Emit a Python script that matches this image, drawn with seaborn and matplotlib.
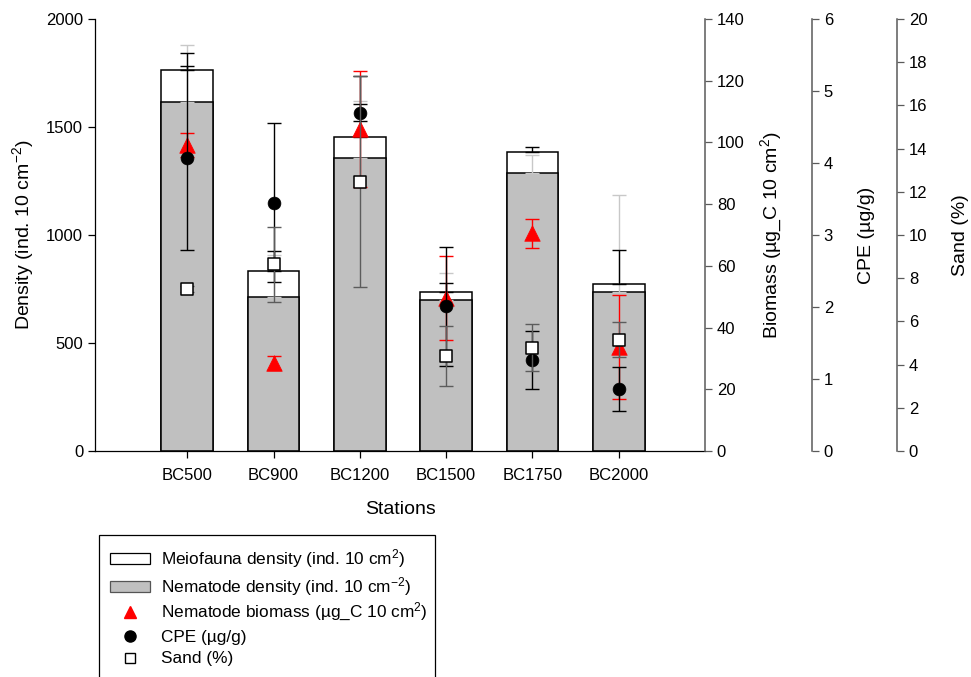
import numpy as np
import pandas as pd
import matplotlib
matplotlib.use("Agg")
import matplotlib.pyplot as plt
import seaborn as sns
from matplotlib.patches import Patch, Rectangle
from matplotlib.lines import Line2D

# ---- data -------------------------------------------------------------
stations = ["BC500", "BC900", "BC1200", "BC1500", "BC1750", "BC2000"]

meiofauna_density = [1762, 835, 1452, 736, 1386, 775]
meiofauna_density_err = [79, 91, 285, 42, 23, 154]
nematode_density = [1616, 711, 1358, 699, 1287, 735]
nematode_density_err = [264, 196, 264, 126, 82, 449]

nematode_biomass = [99.2, 28.6, 104.4, 49.7, 70.5, 33.7]
nematode_biomass_err = [3.8, 2.2, 18.8, 13.6, 4.6, 16.9]
cpe = [4.07, 3.45, 4.70, 2.01, 1.26, 0.86]
cpe_err = [1.28, 1.10, 0.115, 0.83, 0.40, 0.31]
sand = [7.5, 8.64, 12.47, 4.40, 4.78, 5.14]
sand_err = [0.15, 1.73, 4.87, 1.37, 1.08, 0.81]

density_ticks = [0, 500, 1000, 1500, 2000]
biomass_ticks = list(range(0, 141, 20))
cpe_ticks = list(range(0, 7))
sand_ticks = list(range(0, 21, 2))

# ---- style ------------------------------------------------------------
sns.set_style("ticks")
plt.rcParams["font.family"] = ["Liberation Sans", "DejaVu Sans"]
plt.rcParams["mathtext.fontset"] = "custom"
plt.rcParams["mathtext.rm"] = "Liberation Sans"
plt.rcParams["mathtext.it"] = "Liberation Sans:italic"
plt.rcParams["mathtext.bf"] = "Liberation Sans:bold"
plt.rcParams["text.color"] = "black"
plt.rcParams["axes.labelcolor"] = "black"
plt.rcParams["xtick.color"] = "black"
plt.rcParams["ytick.color"] = "black"

GREY_BAR = "#c0c0c0"
SPINE_GREY = "#5a5a5a"
TICK_FS = 12
LABEL_FS = 14
LEGEND_FS = 12.4

fig = plt.figure(figsize=(9.71, 6.77), dpi=100)
ax = fig.add_axes([95 / 971, 1 - 451 / 677, 610 / 971, 432 / 677])

df = pd.DataFrame({
    "station": stations,
    "meiofauna": meiofauna_density,
    "nematode": nematode_density,
})
x = np.arange(len(stations))

# total meiofauna bar behind, nematode share in front
sns.barplot(data=df, x="station", y="meiofauna", color="white", saturation=1,
            edgecolor="black", linewidth=1.1, width=0.6, ax=ax, errorbar=None)
sns.barplot(data=df, x="station", y="nematode", color=GREY_BAR, saturation=1,
            edgecolor="black", linewidth=1.1, width=0.6, ax=ax, errorbar=None)

zeros = np.zeros(len(x))
ax.errorbar(x, nematode_density, yerr=[zeros, nematode_density_err], fmt="none",
            ecolor="#c8c8c8", elinewidth=1.0, capsize=4.7, capthick=1.0, zorder=3)
ax.errorbar(x, meiofauna_density, yerr=[zeros, meiofauna_density_err], fmt="none",
            ecolor="black", elinewidth=1.0, capsize=4.7, capthick=1.0, zorder=3)

ax.set_xlim(-1.07, 6.0)
ax.set_ylim(0, 2000)
ax.set_yticks(density_ticks)
ax.set_xlabel("Stations", fontsize=LABEL_FS, labelpad=13)
ax.set_ylabel("Density (ind. 10 cm$^{-2}$)", fontsize=LABEL_FS, labelpad=7)
ax.tick_params(axis="both", direction="out", length=5, width=0.9,
               labelsize=TICK_FS, colors="black")
ax.tick_params(axis="x", pad=7)
for side in ("top", "right"):
    ax.spines[side].set_visible(False)
for side in ("left", "bottom"):
    ax.spines[side].set_color("black")
    ax.spines[side].set_linewidth(0.9)

# ---- secondary scales -------------------------------------------------
ax_bio = ax.twinx()
ax_cpe = ax.twinx()
ax_sand = ax.twinx()
ax_cpe.spines["right"].set_position(("axes", 1 + 107 / 610))
ax_sand.spines["right"].set_position(("axes", 1 + 192 / 610))

for a, lim, ticks in ((ax_bio, 140, biomass_ticks), (ax_cpe, 6, cpe_ticks),
                      (ax_sand, 20, sand_ticks)):
    a.set_ylim(0, lim)
    a.set_yticks(ticks)
    for side in ("top", "left", "bottom"):
        a.spines[side].set_visible(False)
    a.spines["right"].set_color(SPINE_GREY)
    a.spines["right"].set_linewidth(1.1)
    a.tick_params(axis="y", direction="out", length=5, width=0.9,
                  color=SPINE_GREY, labelsize=TICK_FS, labelcolor="black")

ax_bio.set_ylabel("Biomass (µg_C 10 cm$^{2}$)", fontsize=LABEL_FS, labelpad=10)
ax_cpe.set_ylabel("CPE (µg/g)", fontsize=LABEL_FS, labelpad=18)
ax_sand.set_ylabel("Sand (%)", fontsize=LABEL_FS, labelpad=18)

ERR_KW = dict(fmt="none", elinewidth=1.0, capsize=4.7, capthick=1.0)

ax_bio.errorbar(x, nematode_biomass, yerr=nematode_biomass_err, ecolor="red", **ERR_KW)
sns.scatterplot(x=x, y=nematode_biomass, ax=ax_bio, marker="^", s=125,
                color="red", edgecolor="red", linewidth=0.5, zorder=4)

ax_cpe.errorbar(x, cpe, yerr=cpe_err, ecolor="black", **ERR_KW)
sns.scatterplot(x=x, y=cpe, ax=ax_cpe, marker="o", s=85,
                color="black", edgecolor="black", linewidth=0.5, zorder=4)

ax_sand.errorbar(x, sand, yerr=sand_err, ecolor="#5c5c5c", **ERR_KW)
sns.scatterplot(x=x, y=sand, ax=ax_sand, marker="s", s=75,
                color="white", edgecolor="black", linewidth=1.1, zorder=4)

for a in (ax_bio, ax_cpe, ax_sand):
    a.set_xlim(-1.07, 6.0)

# ---- legend -----------------------------------------------------------
bar_handles = [
    Patch(facecolor="white", edgecolor="black", linewidth=0.9),
    Patch(facecolor=GREY_BAR, edgecolor="#555555", linewidth=0.9),
]
bar_labels = [
    "Meiofauna density (ind. 10 cm$^{2}$)",
    "Nematode density (ind. 10 cm$^{-2}$)",
]
marker_handles = [
    Line2D([], [], linestyle="none", marker="^", markersize=9,
           markerfacecolor="red", markeredgecolor="red"),
    Line2D([], [], linestyle="none", marker="o", markersize=8,
           markerfacecolor="black", markeredgecolor="black"),
    Line2D([], [], linestyle="none", marker="s", markersize=7.5,
           markerfacecolor="white", markeredgecolor="black"),
]
marker_labels = [
    "Nematode biomass (µg_C 10 cm$^{\\mathregular{2}}$)",
    "CPE (µg/g)",
    "Sand (%)",
]

legend_kw = dict(loc="upper left", frameon=False, fontsize=LEGEND_FS,
                 handlelength=2.35, handleheight=0.6, handletextpad=0.6,
                 borderpad=0, borderaxespad=0)
fig.legend(bar_handles, bar_labels, bbox_to_anchor=(110 / 971, 1 - 547 / 677),
           labelspacing=0.3, **legend_kw)
fig.legend(marker_handles, marker_labels, bbox_to_anchor=(110 / 971, 1 - 601 / 677),
           labelspacing=0.38, **legend_kw)

fig.add_artist(Rectangle((99 / 971, -0.05), (435 - 99) / 971,
                         (677 - 535) / 677 + 0.05, transform=fig.transFigure,
                         fill=False, edgecolor="black", linewidth=0.9))

fig.savefig("out.png", dpi=100)
